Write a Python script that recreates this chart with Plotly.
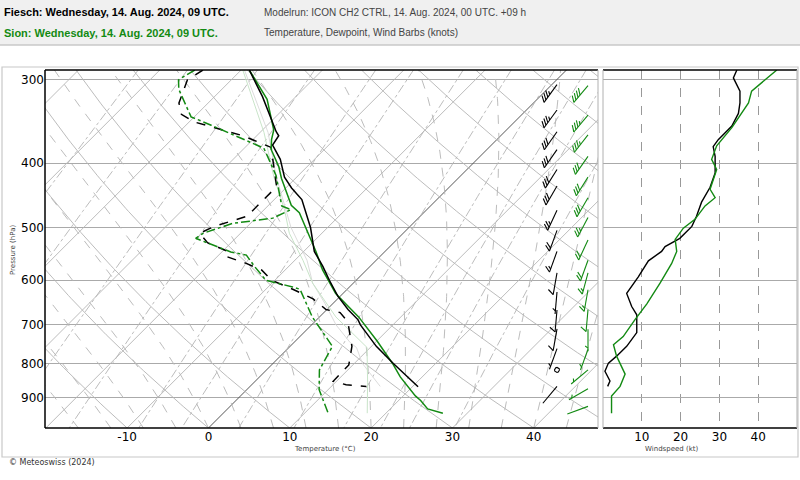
import numpy as np
import plotly.graph_objects as go

# ---------------- data ----------------
levels = [300, 400, 500, 600, 700, 800, 900]
height_labels = ["9000 m", "7000 m", "5500 m", "4000 m", "3000 m", "2000 m", "1000 m"]
temp_ticks = [-10, 0, 10, 20, 30, 40]
wind_ticks = [10, 20, 30, 40]

fiesch_t_p = [290, 318, 359, 364, 376, 395, 420, 436, 454, 500, 543, 572, 600, 634, 664, 688, 700, 754, 800, 855, 867]
fiesch_t = [-39.0, -34.1, -28.1, -27.3, -26.9, -24.2, -21.5, -19.3, -16.6, -12.1, -8.7, -5.8, -3.3, -0.3, 2.6, 5.1, 6.0, 10.6, 14.8, 19.6, 20.7]

fiesch_td_p = [290, 300, 325, 338, 347, 364, 379, 412, 434, 481, 498, 510, 527, 544, 553, 566, 579, 600, 620, 640, 664, 671, 693, 754, 804, 851, 861, 866]
fiesch_td = [-44.7, -45.4, -43.6, -41.9, -39.4, -31.7, -26.8, -23.4, -21.3, -21.3, -24.1, -25.0, -22.9, -19.1, -18.8, -15.6, -12.9, -10.4, -6.5, -3.0, -0.1, 2.0, 4.1, 7.6, 9.5, 9.6, 11.6, 14.3]

fiesch_tw_p = [290, 360, 420, 500, 560, 606, 650, 700, 744, 757, 800, 866]
fiesch_tw = [-39.6, -29.0, -22.5, -14.5, -8.5, -5.0, -1.0, 3.0, 6.9, 8.3, 11.0, 16.0]

sion_t_p = [290, 321, 357, 369, 382, 405, 422, 463, 475, 510, 543, 579, 628, 681, 700, 741, 800, 838, 895, 909, 936, 950]
sion_t = [-39.0, -33.2, -28.6, -27.7, -26.5, -23.5, -21.7, -17.2, -15.3, -11.7, -8.5, -5.4, -0.9, 4.8, 6.5, 10.1, 14.7, 17.3, 21.5, 22.7, 24.6, 27.0]

sion_td_p = [290, 300, 310, 341, 351, 380, 395, 418, 464, 470, 484, 493, 510, 519, 544, 550, 572, 600, 614, 619, 681, 754, 818, 876, 950]
sion_td = [-45.7, -46.5, -45.3, -40.4, -36.9, -27.6, -25.6, -22.7, -18.3, -16.7, -17.9, -22.2, -24.6, -24.9, -18.9, -16.6, -14.2, -11.1, -7.0, -5.8, -0.9, 5.2, 6.5, 8.9, 12.9]

sion_tw_p = [290, 360, 420, 470, 510, 560, 606, 681, 757, 855, 950]
sion_tw = [-39.8, -29.5, -22.8, -17.5, -14.0, -9.0, -5.0, 2.0, 9.6, 14.0, 17.7]

fiesch_ws_p = [290, 298, 312, 325, 337, 352, 369, 378, 391, 414, 435, 458, 481, 498, 519, 534, 543, 561, 593, 628, 657, 676, 719, 754, 780, 799, 822, 850, 866]
fiesch_ws = [34.5, 33.6, 35.3, 35.3, 34.9, 33.2, 29.7, 28.4, 28.9, 28.9, 27.6, 25.4, 24.1, 22.9, 19.8, 16.0, 15.1, 11.7, 9.1, 6.1, 7.4, 8.7, 8.7, 6.1, 3.5, 1.4, 0.5, 1.8, 1.2]

sion_ws_p = [290, 312, 325, 354, 377, 395, 409, 438, 451, 464, 486, 501, 521, 543, 566, 606, 651, 688, 729, 750, 780, 830, 866, 895, 950]
sion_ws = [44.8, 38.3, 37.5, 33.2, 29.3, 28.0, 29.3, 27.6, 28.9, 26.3, 23.7, 20.7, 18.6, 19.0, 17.7, 14.7, 11.3, 8.2, 5.2, 2.7, 3.5, 5.7, 4.4, 2.2, 2.2]

fiesch_barb_p = [305, 333, 359, 382, 409, 433, 471, 505, 543, 585, 625, 665, 710, 760, 818, 866]
fiesch_barb_spd = [35, 35, 32, 28, 29, 28, 25, 22, 15, 10, 6, 8, 9, 6, 0, 1.2]
fiesch_barb_dir = [216, 216, 215, 215, 212, 210, 205, 200, 200, 190, 185, 185, 190, 200, 0, 220]

sion_barb_p = [306, 339, 363, 391, 420, 451, 483, 522, 560, 585, 620, 664, 711, 762, 818, 873, 928]
sion_barb_spd = [40, 37, 33, 28, 28, 28, 24, 20, 19, 17, 14, 10, 6, 3, 5, 4, 2]
sion_barb_dir = [220, 220, 218, 215, 212, 210, 208, 205, 200, 195, 190, 185, 180, 200, 230, 240, 250]

# ---------------- geometry / style constants ----------------
W, H = 800, 480
X0, X1 = 45, 598          # main panel pixel edges
X2, X3 = 603, 797         # wind panel pixel edges
YT, YB = 70, 428          # top / bottom pixel edges
P_TOP, P_BOT = 290.0, 1000.0
T_MIN, T_MAX = -20.1, 47.9
PX_PER_C = (X1 - X0) / (T_MAX - T_MIN)
PX_PER_LOG10 = (YB - YT) / (np.log10(P_BOT) - np.log10(P_TOP))
SKEW = PX_PER_LOG10 / PX_PER_C   # skewed-T units per log10(p)

GREEN = "#138a13"
GRID = "#b4b4b4"

def skew_x(t, p):
    return np.asarray(t, float) + SKEW * np.log10(P_BOT / np.asarray(p, float))

def px_to_dt(dx):
    return dx / PX_PER_C

fig = go.Figure()

# ---------------- background lines ----------------
pp = np.geomspace(P_TOP, P_BOT, 120)

def add_family(curves, dash, color=GRID, width=0.9):
    xs, ys = [], []
    for t, p in curves:
        xs += list(skew_x(t, p)) + [None]
        ys += list(p) + [None]
    fig.add_trace(go.Scatter(x=xs, y=ys, mode="lines", hoverinfo="skip", showlegend=False,
                             line=dict(color=color, width=width, dash=dash)))

iso = [(np.array([t, t]), np.array([P_BOT, P_TOP])) for t in range(-110, 60, 10) if t != 0]
add_family(iso, "solid")
add_family([(np.array([0, 0]), np.array([P_BOT, P_TOP]))], "solid", color="#555555", width=1.0)
dry = []
for t0 in range(-40, 220, 10):
    th = t0 + 273.15
    dry.append((th * (pp / 1000.0) ** 0.2857 - 273.15, pp))
add_family(dry, "solid")

def rs(T, p):
    es = 6.112 * np.exp(17.67 * (T - 273.15) / (T - 29.65))
    return 0.622 * es / (p - es)

def dTdp(T, p):
    r = rs(T, p)
    return (287.04 * T + 2.501e6 * r) / (p * (1005.7 + 2.501e6 ** 2 * r * 0.622 / (287.04 * T * T)))

moist = []
for t0 in range(-20, 48, 4):
    ps = np.linspace(P_BOT, P_TOP, 143)
    T = t0 + 273.15
    out = [T]
    for i in range(len(ps) - 1):
        h = ps[i + 1] - ps[i]
        k1 = dTdp(T, ps[i]); k2 = dTdp(T + h / 2 * k1, ps[i] + h / 2)
        k3 = dTdp(T + h / 2 * k2, ps[i] + h / 2); k4 = dTdp(T + h * k3, ps[i + 1])
        T = T + h / 6 * (k1 + 2 * k2 + 2 * k3 + k4)
        out.append(T)
    moist.append((np.array(out) - 273.15, ps))
add_family(moist, "dash")

mix = []
for w in [0.1, 0.2, 0.5, 1, 2, 3, 5, 8, 12, 16, 20, 28]:
    wk = w / 1000.0
    e = wk * pp / (0.622 + wk)
    a = np.log(e / 6.112)
    mix.append((243.5 * a / (17.67 - a), pp))
add_family(mix, "dashdot")

# ---------------- profiles ----------------
def prof(t, p, color, dash, width):
    fig.add_trace(go.Scatter(x=skew_x(t, p), y=p, mode="lines", showlegend=False, hoverinfo="skip",
                             line=dict(color=color, width=width, dash=dash)))

prof(fiesch_tw, fiesch_tw_p, "#dcdcdc", "solid", 1)
prof(sion_tw, sion_tw_p, "#c9e4c9", "solid", 1)
prof(fiesch_td, fiesch_td_p, "black", "dash", 1.5)
prof(sion_td, sion_td_p, GREEN, "dashdot", 1.5)
prof(sion_t, sion_t_p, GREEN, "solid", 1.5)
prof(fiesch_t, fiesch_t_p, "black", "solid", 1.5)

# ---------------- wind barbs ----------------
def barbs(x_px, ps, spds, dirs, color):
    xa = (x_px - X0) / PX_PER_C + T_MIN
    xs, ys = [], []
    L, F, S = 22.0, 7.0, 3.2
    def pt(dx, dy, p0):
        return xa + px_to_dt(dx), p0 * 10 ** (dy / PX_PER_LOG10)
    for p0, s, d in zip(ps, spds, dirs):
        if s < 1:
            for a in np.linspace(0, 2 * np.pi, 13):
                x, y = pt(2.5 * np.cos(a), 2.5 * np.sin(a), p0)
                xs.append(x); ys.append(y)
            xs.append(None); ys.append(None)
            continue
        r = np.radians(d)
        ox, oy = np.sin(r), -np.cos(r)
        rx, ry = -oy, ox
        fx, fy = 0.8 * rx - 0.6 * ox, 0.8 * ry - 0.6 * oy
        x, y = pt(0, 0, p0); xs.append(x); ys.append(y)
        x, y = pt(L * ox, L * oy, p0); xs.append(x); ys.append(y)
        xs.append(None); ys.append(None)
        s5 = 5 * round(s / 5.0)
        n10 = int(s5 // 10); n5 = 1 if (s5 - 10 * n10) >= 5 else 0
        pos = L
        for _ in range(n10):
            bx, by = pos * ox, pos * oy
            for (ddx, ddy) in [(bx, by), (bx + F * fx, by + F * fy)]:
                x, y = pt(ddx, ddy, p0); xs.append(x); ys.append(y)
            xs.append(None); ys.append(None)
            pos -= S
        if n5:
            if n10 == 0:
                pos -= S
            bx, by = pos * ox, pos * oy
            for (ddx, ddy) in [(bx, by), (bx + F / 2 * fx, by + F / 2 * fy)]:
                x, y = pt(ddx, ddy, p0); xs.append(x); ys.append(y)
            xs.append(None); ys.append(None)
    fig.add_trace(go.Scatter(x=xs, y=ys, mode="lines", showlegend=False, hoverinfo="skip",
                             line=dict(color=color, width=1.1)))

barbs(557, fiesch_barb_p, fiesch_barb_spd, fiesch_barb_dir, "black")
barbs(588, sion_barb_p, sion_barb_spd, sion_barb_dir, GREEN)

# ---------------- wind speed panel ----------------
fig.add_trace(go.Scatter(x=fiesch_ws, y=fiesch_ws_p, xaxis="x2", yaxis="y2", mode="lines",
                         showlegend=False, line=dict(color="black", width=1.4)))
fig.add_trace(go.Scatter(x=sion_ws, y=sion_ws_p, xaxis="x2", yaxis="y2", mode="lines",
                         showlegend=False, line=dict(color=GREEN, width=1.4)))

# ---------------- layout ----------------
yd = [(H - YB) / H, (H - YT) / H]
tickfont = dict(family="DejaVu Sans", size=12, color="black")
fig.update_layout(
    width=W, height=H, margin=dict(l=0, r=0, t=0, b=0),
    paper_bgcolor="white", plot_bgcolor="white",
    xaxis=dict(domain=[X0 / W, X1 / W], range=[T_MIN, T_MAX], tickvals=temp_ticks,
               ticktext=[str(v) for v in temp_ticks], showgrid=False, zeroline=False,
               tickfont=tickfont, ticks="", showline=False, ticklabelstandoff=0),
    yaxis=dict(domain=yd, type="log", range=[np.log10(P_BOT), np.log10(P_TOP)],
               tickvals=levels, ticktext=[str(v) for v in levels], showgrid=True,
               gridcolor="#aaaaaa", gridwidth=1, zeroline=False, tickfont=tickfont, ticks=""),
    xaxis2=dict(domain=[X2 / W, X3 / W], range=[0, 50], tickvals=wind_ticks, anchor="y2",
                showgrid=True, gridcolor="#999999", griddash="dash", gridwidth=1,
                zeroline=False, tickfont=tickfont, ticks="", ticklabelstandoff=0),
    yaxis2=dict(domain=yd, type="log", range=[np.log10(P_BOT), np.log10(P_TOP)], anchor="x2",
                tickvals=levels, showticklabels=False, showgrid=True, gridcolor="#aaaaaa",
                zeroline=False),
)

shapes = []
shapes.append(dict(type="rect", xref="paper", yref="paper", x0=0, x1=1, y0=1 - 45 / H, y1=1,
                   fillcolor="#f0f0f0", line=dict(width=0), layer="below"))
shapes.append(dict(type="line", xref="paper", yref="paper", x0=0, x1=1, y0=1 - 45 / H, y1=1 - 45 / H,
                   line=dict(color="#c8c8c8", width=1.5)))
shapes.append(dict(type="rect", xref="paper", yref="paper", x0=2 / W, x1=798 / W, y0=(H - 457) / H,
                   y1=(H - 67) / H, line=dict(color="#c8c8c8", width=1.2)))
for xa, xb in [(X0, X1), (X2, X3)]:
    shapes.append(dict(type="line", xref="paper", yref="paper", x0=xa / W, x1=xb / W, y0=yd[1], y1=yd[1],
                       line=dict(color="black", width=1.5)))
    shapes.append(dict(type="line", xref="paper", yref="paper", x0=xa / W, x1=xb / W, y0=yd[0], y1=yd[0],
                       line=dict(color="black", width=1.5)))
shapes.append(dict(type="line", xref="paper", yref="paper", x0=X0 / W, x1=X0 / W, y0=yd[0], y1=yd[1],
                   line=dict(color="black", width=1.5)))
for xv in [X1, X2, X3]:
    shapes.append(dict(type="line", xref="paper", yref="paper", x0=xv / W, x1=xv / W, y0=yd[0], y1=yd[1],
                       line=dict(color="#b0b0b0", width=1)))
fig.update_layout(shapes=shapes)

ann = []
hfont = "Liberation Sans, Arial, sans-serif"
ann.append(dict(text="<b>Fiesch: Wednesday, 14. Aug. 2024, 09 UTC.</b>", x=2 / W, y=1 - 12 / H,
                xref="paper", yref="paper", xanchor="left", yanchor="middle", showarrow=False,
                font=dict(family=hfont, size=11, color="black")))
ann.append(dict(text="<b>Sion: Wednesday, 14. Aug. 2024, 09 UTC.</b>", x=2 / W, y=1 - 33 / H,
                xref="paper", yref="paper", xanchor="left", yanchor="middle", showarrow=False,
                font=dict(family=hfont, size=11, color=GREEN)))
ann.append(dict(text="Modelrun: ICON CH2 CTRL, 14. Aug. 2024, 00 UTC. +09 h", x=262 / W, y=1 - 12 / H,
                xref="paper", yref="paper", xanchor="left", yanchor="middle", showarrow=False,
                font=dict(family=hfont, size=10, color="#444444")))
ann.append(dict(text="Temperature, Dewpoint, Wind Barbs (knots)", x=262 / W, y=1 - 33 / H,
                xref="paper", yref="paper", xanchor="left", yanchor="middle", showarrow=False,
                font=dict(family=hfont, size=10, color="#444444")))
for lv, lab in zip(levels, height_labels):
    for xr in ["x", "x2"]:
        ann.append(dict(text=lab, x=(52 / W) if xr == "x" else (608 / W), y=lv, xref="paper", yref="y",
                        xanchor="left", yanchor="middle", showarrow=False,
                        font=dict(family="DejaVu Sans", size=11, color="#8a8a8a")))
ann.append(dict(text="Pressure (hPa)", x=7 / W, y=(H - 250) / H, xref="paper", yref="paper",
                textangle=-90, showarrow=False, font=dict(family="DejaVu Sans", size=7, color="#444")))
ann.append(dict(text="Temperature (°C)", x=325 / W, y=(H - 455) / H, xref="paper", yref="paper",
                showarrow=False, font=dict(family="DejaVu Sans", size=7, color="#444")))
ann.append(dict(text="Windspeed (kt)", x=700 / W, y=(H - 455) / H, xref="paper", yref="paper",
                showarrow=False, font=dict(family="DejaVu Sans", size=7, color="#444")))
ann.append(dict(text="© Meteoswiss (2024)", x=7 / W, y=(H - 469) / H, xref="paper", yref="paper",
                xanchor="left", showarrow=False, font=dict(family="DejaVu Sans", size=8, color="#333")))
fig.update_layout(annotations=ann)

fig.write_html("out.html")
